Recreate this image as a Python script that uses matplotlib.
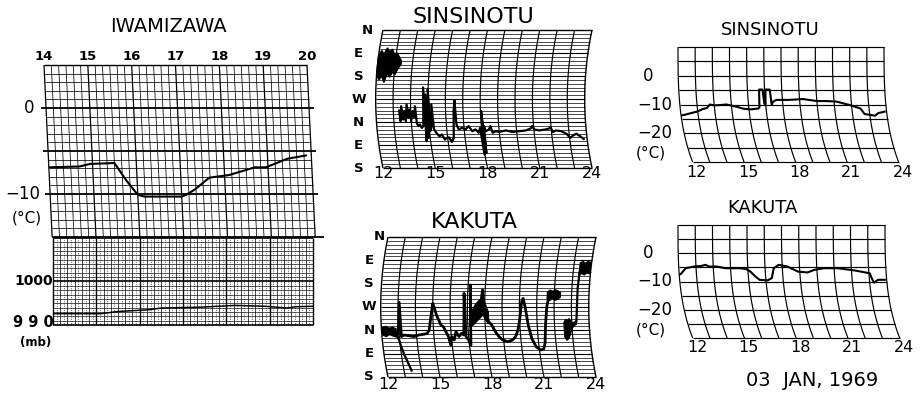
import matplotlib
matplotlib.use("Agg")
import matplotlib.pyplot as plt
import numpy as np

# ---------------- data ----------------
# IWAMIZAWA temperature (hour, degC) and pressure (hour, mb)
iw_temp_hours = [14.0, 14.7, 14.95, 15.5, 15.75, 16.0, 16.15, 17.0, 17.1, 17.3, 17.65,
                 18.1, 18.3, 18.5, 18.7, 18.95, 19.15, 19.45, 19.9]
iw_temp_vals = [-6.9, -6.8, -6.5, -6.4, -8.4, -10.1, -10.3, -10.3, -10.1, -9.5, -8.1,
                -7.8, -7.5, -7.2, -6.9, -6.9, -6.5, -5.9, -5.5]
iw_pres_hours = [14.0, 15.1, 15.5, 16.2, 16.5, 17.4, 18.2, 18.9, 19.4, 19.6, 20.0]
iw_pres_vals = [992.6, 992.6, 993.1, 993.5, 993.9, 994.1, 994.5, 994.3, 993.9, 994.2, 994.3]
iw_hour_labels = [14, 15, 16, 17, 18, 19, 20]

# SINSINOTU wind direction (hour, degrees along chart: N=0,E=90,S=180,W=270,N=360,E=450,S=540)
sw_blob_hours = [12.0, 12.15, 12.3, 12.45, 12.6, 12.75, 12.9, 13.05, 13.2, 13.35]
sw_blob_low = [100, 80, 95, 70, 85, 75, 95, 90, 105, 120]
sw_blob_high = [175, 195, 180, 205, 170, 185, 165, 175, 150, 135]
sw_hours = [13.33, 13.38, 13.46, 13.54, 13.62, 13.69, 13.77, 13.85, 13.92, 14.0, 14.1, 14.19,
            14.25, 14.31, 14.38, 14.48, 14.58, 14.67, 14.71, 14.77, 14.85, 14.92, 14.98, 15.04,
            15.12, 15.19, 15.27, 15.38, 15.54, 15.69, 15.83, 15.96, 16.08, 16.21, 16.35, 16.46,
            16.52, 16.58, 16.69, 16.88, 17.08, 17.27, 17.46, 17.65, 17.81, 17.92, 17.98, 18.04,
            18.1, 18.15, 18.23, 18.42, 18.52, 18.62, 18.81, 19.0, 19.38, 19.77, 20.15, 20.54,
            20.83, 20.92, 21.02, 21.31, 21.69, 21.98, 22.08, 22.27, 22.56, 22.85, 23.04, 23.23,
            23.42, 23.62, 23.85]
sw_dirs = [311, 357, 298, 350, 317, 357, 291, 343, 311, 357, 317, 343,
           298, 363, 376, 370, 383, 376, 225, 435, 252, 422, 232, 396,
           383, 291, 389, 402, 416, 409, 429, 422, 420, 438, 422, 317,
           275, 370, 389, 383, 389, 376, 396, 389, 402, 383, 488, 317,
           481, 376, 396, 389, 376, 402, 396, 399, 393, 399, 396, 393,
           385, 376, 389, 393, 389, 383, 399, 393, 396, 406, 422, 412,
           406, 416, 429]

# KAKUTA wind direction
kw_blob1_hours = [12.05, 12.25, 12.45, 12.65, 12.85]
kw_blob1_low = [350, 345, 352, 348, 355]
kw_blob1_high = [378, 384, 376, 382, 386]
kw_drop_hours = [12.88, 13.15, 13.45]
kw_drop_dirs = [378, 450, 519]
kw_hours = [12.83, 12.94, 13.06, 13.12, 13.27, 13.56, 13.85, 14.13, 14.42, 14.62, 14.75, 14.87,
            15.0, 15.1, 15.21, 15.33, 15.44, 15.58, 15.71, 15.83, 15.92, 16.02, 16.15, 16.29,
            16.44, 16.6, 16.73, 16.79, 16.85, 16.98, 17.08, 17.12, 17.17, 17.31, 17.44, 17.6,
            17.75, 17.85, 17.94, 18.08, 18.21, 18.37, 18.56, 18.75, 18.94, 19.23, 19.52, 19.71,
            19.87, 20.0, 20.13, 20.21, 20.33, 20.48, 20.63, 20.83, 21.06, 21.25, 21.37, 21.48,
            21.58, 21.67]
kw_dirs = [368, 375, 252, 384, 378, 381, 384, 378, 375, 372, 359, 314,
           256, 275, 301, 320, 339, 346, 365, 384, 417, 384, 397, 365,
           384, 372, 378, 217, 384, 397, 417, 185, 339, 320, 301, 288,
           269, 204, 275, 301, 327, 339, 365, 384, 397, 404, 397, 384,
           359, 320, 249, 237, 269, 339, 391, 423, 436, 432, 410, 339,
           269, 237]
kw_band_hours = [17.15, 17.3, 17.45, 17.6, 17.75, 17.9, 18.05, 18.2]
kw_band_low = [290, 280, 262, 250, 240, 232, 262, 290]
kw_band_high = [345, 340, 330, 320, 310, 300, 320, 335]
kw_blob2_hours = [21.6, 21.75, 21.9, 22.05, 22.2, 22.35]
kw_blob2_low = [212, 205, 210, 204, 208, 214]
kw_blob2_high = [238, 245, 236, 244, 240, 232]
kw_blob3_hours = [22.55, 22.65, 22.75, 22.85, 22.95, 23.08, 23.27]
kw_blob3_low = [330, 318, 322, 315, 325, 332, 322]
kw_blob3_high = [385, 398, 392, 380, 360, 345, 335]
kw_end_hours = [23.27, 23.33, 23.37]
kw_end_dirs = [327, 200, 134]
kw_blob4_hours = [23.35, 23.5, 23.65, 23.8, 23.95]
kw_blob4_low = [100, 95, 102, 94, 98]
kw_blob4_high = [148, 140, 146, 138, 142]

wind_hour_labels = [12, 15, 18, 21, 24]
wind_dir_labels = ["N", "E", "S", "W", "N", "E", "S"]

# SINSINOTU / KAKUTA temperature (hour, degC)
st_hours = [12.0, 12.2, 12.6, 13.0, 13.3, 13.56, 13.75, 14.0, 14.33, 14.72, 15.3, 15.7, 16.1,
            16.55, 16.62, 16.68, 16.88, 16.93, 17.0, 17.05, 17.3, 17.35, 17.45, 17.65, 18.4,
            19.2, 20.0, 20.55, 21.15, 21.9, 22.5, 22.7, 23.0, 23.3, 23.5, 23.95]
st_temps = [-13.8, -13.6, -13.0, -12.4, -11.6, -11.2, -10.0, -10.3, -10.2, -10.0, -10.8, -11.5,
            -11.7, -11.4, -11.0, -4.8, -4.8, -9.8, -9.8, -4.8, -4.8, -10.0, -9.0, -8.4, -8.4,
            -8.1, -8.8, -8.8, -9.0, -10.2, -11.4, -13.3, -13.6, -13.9, -13.0, -12.4]
kt_hours = [12.0, 12.1, 12.4, 12.9, 13.3, 13.56, 13.75, 14.2, 14.7, 15.56, 15.9, 16.14, 16.4,
            16.63, 17.1, 17.35, 17.5, 17.8, 18.3, 18.9, 19.45, 19.84, 20.4, 21.2, 22.2, 23.05,
            23.15, 23.25, 23.5, 23.95]
kt_temps = [-7.6, -7.3, -5.3, -4.7, -4.5, -4.1, -4.7, -4.7, -5.3, -5.3, -5.6, -6.5, -8.2,
            -9.4, -9.6, -8.8, -5.3, -4.1, -4.7, -6.5, -6.8, -5.9, -5.3, -5.3, -6.1, -7.1,
            -9.0, -10.4, -9.4, -9.4]
temp_hour_labels = [12, 15, 18, 21, 24]

# ---------------- figure ----------------
W, H = 923, 393
plt.rcParams['font.family'] = ['DejaVu Sans']
fig = plt.figure(figsize=(W / 100, H / 100), dpi=100)
fig.patch.set_facecolor('white')
K = '#000000'


def add_ax(x0, x1, y0, y1, xlim, ylim):
    ax = fig.add_axes([x0 / W, 1 - y1 / H, (x1 - x0) / W, (y1 - y0) / H])
    ax.set_xlim(*xlim)
    ax.set_ylim(*ylim)
    ax.axis('off')
    return ax


def ptext(x, y, s, **kw):
    fig.text(x / W, 1 - y / H, s, ha='center', va='center', color=K, **kw)


def line(ax, x, y, lw=0.6, ls='-'):
    ax.plot(x, y, color=K, lw=lw, ls=ls, clip_on=False, solid_capstyle='butt')


# ---- IWAMIZAWA temperature ----
def warp_iw(t, T):
    return np.asarray(t, float) + (5 - np.asarray(T, float)) * 0.0093


ax = add_ax(44, 307, 65, 237, (14, 20), (-15, 5))
for m in range(0, 361, 10):
    t = 14 + m / 60
    line(ax, warp_iw([t, t], [5, -15]), [5, -15], lw=0.9 if m % 60 == 0 else 0.55)
for T in range(-15, 6):
    if T in (0, -5, -10):
        line(ax, warp_iw([13.88, 20.12], [T, T]), [T, T], lw=1.3)
    elif T == -15:
        line(ax, warp_iw([14, 20.2], [T, T]), [T, T], lw=1.3)
    else:
        line(ax, warp_iw([14, 20], [T, T]), [T, T], lw=0.55 if T != 5 else 1.0)
line(ax, warp_iw(iw_temp_hours, iw_temp_vals), iw_temp_vals, lw=1.5)
for h in iw_hour_labels:
    ax.text(h, 5.95, str(h), ha='center', va='center', fontsize=9.5, fontweight='bold')
ax.text(13.65, 0, "0", ha='center', va='center', fontsize=12)
ax.text(13.52, -10, "\u221210", ha='center', va='center', fontsize=12)
ax.text(13.6, -12.8, "(\u00b0C)", ha='center', va='center', fontsize=11)

# ---- IWAMIZAWA pressure ----
ax = add_ax(53, 313, 238, 325, (14, 20), (990, 1010))
for m in range(0, 361, 5):
    t = 14 + m / 60
    if m % 60 == 0:
        line(ax, [t, t], [990, 1010], lw=1.0)
    elif m % 10 == 0:
        line(ax, [t, t], [990, 1010], lw=0.5)
    else:
        line(ax, [t, t], [990, 1010], lw=0.5, ls=':')
for p in range(990, 1011):
    line(ax, [14, 20], [p, p], lw=1.2 if p in (990, 1000, 1010) else 0.45)
line(ax, iw_pres_hours, iw_pres_vals, lw=1.1)
ax.text(13.55, 1000, "1000", ha='center', va='center', fontsize=10, fontweight='bold')
ax.text(13.55, 990.5, "9 9 0", ha='center', va='center', fontsize=10.5, fontweight='bold')
ax.text(13.6, 985.9, "(mb)", ha='center', va='center', fontsize=8.5, fontweight='bold')
ptext(168, 27, "IWAMIZAWA", fontsize=14)


# ---- wind direction panels ----
def warp_w(t, d, bulge=0.42):
    d = np.asarray(d, float)
    return np.asarray(t, float) - bulge * (1 - ((d - 270) / 270) ** 2)


def wind_grid(ax):
    dd = np.linspace(0, 540, 80)
    for h in range(12, 25):
        line(ax, warp_w(h, dd), dd, lw=1.0 if h in (12, 24) else 0.85)
    for d in range(0, 541, 15):
        lw = 1.0 if d in (0, 540) else (0.8 if d % 90 == 0 else 0.5)
        line(ax, warp_w([12, 24], [d, d]), [d, d], lw=lw)


def blob(ax, hours, low, high):
    xs = list(warp_w(hours, high)) + list(warp_w(hours[::-1], low[::-1]))
    ys = list(high) + list(low[::-1])
    ax.fill(xs, ys, color=K, lw=1.0, ec=K, clip_on=False)


def wind_labels(ax, top_x, other_x, hour_y):
    for i, s in enumerate(wind_dir_labels):
        ax.text(top_x if i == 0 else other_x, i * 90, s, ha='center', va='center',
                fontsize=9.5, fontweight='bold')
    for h in wind_hour_labels:
        ax.text(h, hour_y, str(h), ha='center', va='center', fontsize=11.5)


ax = add_ax(383, 592, 30, 168, (12, 24), (540, 0))
wind_grid(ax)
blob(ax, sw_blob_hours, sw_blob_low, sw_blob_high)
line(ax, warp_w(sw_hours, sw_dirs), sw_dirs, lw=1.6)
wind_labels(ax, 11.1, 10.6, 562)
ptext(473, 17, "SINSINOTU", fontsize=16)

ax = add_ax(388, 596, 237, 377, (12, 24), (540, 0))
wind_grid(ax)
blob(ax, kw_blob1_hours, kw_blob1_low, kw_blob1_high)
blob(ax, kw_band_hours, kw_band_low, kw_band_high)
blob(ax, kw_blob2_hours, kw_blob2_low, kw_blob2_high)
blob(ax, kw_blob3_hours, kw_blob3_low, kw_blob3_high)
blob(ax, kw_blob4_hours, kw_blob4_low, kw_blob4_high)
line(ax, warp_w(kw_drop_hours, kw_drop_dirs), kw_drop_dirs, lw=1.6)
line(ax, warp_w(kw_hours, kw_dirs), kw_dirs, lw=2.0)
line(ax, warp_w(kw_end_hours, kw_end_dirs), kw_end_dirs, lw=1.6)
wind_labels(ax, 11.5, 10.9, 570)
ptext(474, 222, "KAKUTA", fontsize=16)


# ---- temperature panels (right) ----
def warp_t(t, T):
    return np.asarray(t, float) + 0.85 * ((10 - np.asarray(T, float)) / 40) ** 3


def temp_panel(ax, hours, temps, hour_y):
    TT = np.linspace(10, -30, 80)
    for h in range(12, 25):
        line(ax, warp_t(h, TT), TT, lw=0.85)
    for T in range(-30, 11, 5):
        line(ax, warp_t([12, 24], [T, T]), [T, T], lw=0.85)
    line(ax, warp_t(hours, temps), temps, lw=1.5)
    for h in temp_hour_labels:
        ax.text(warp_t(h, -30) + 0.25, hour_y, str(h), ha='center', va='center', fontsize=11.5)
    ax.text(10.25, 0, "0", ha='center', va='center', fontsize=12)
    ax.text(10.65, -10, "\u221210", ha='center', va='center', fontsize=12)
    ax.text(10.65, -20, "\u221220", ha='center', va='center', fontsize=12)
    ax.text(10.4, -27, "(\u00b0C)", ha='center', va='center', fontsize=11)


ax = add_ax(678, 884, 47, 162, (12, 24), (-30, 10))
temp_panel(ax, st_hours, st_temps, -33.8)
ptext(770, 30, "SINSINOTU", fontsize=13)

ax = add_ax(678, 885, 225, 338, (12, 24), (-30, 10))
temp_panel(ax, kt_hours, kt_temps, -33.2)
ptext(762, 208, "KAKUTA", fontsize=13)

ptext(812, 380, "03  JAN, 1969", fontsize=14)

fig.savefig("out.png", dpi=100, facecolor='white')
